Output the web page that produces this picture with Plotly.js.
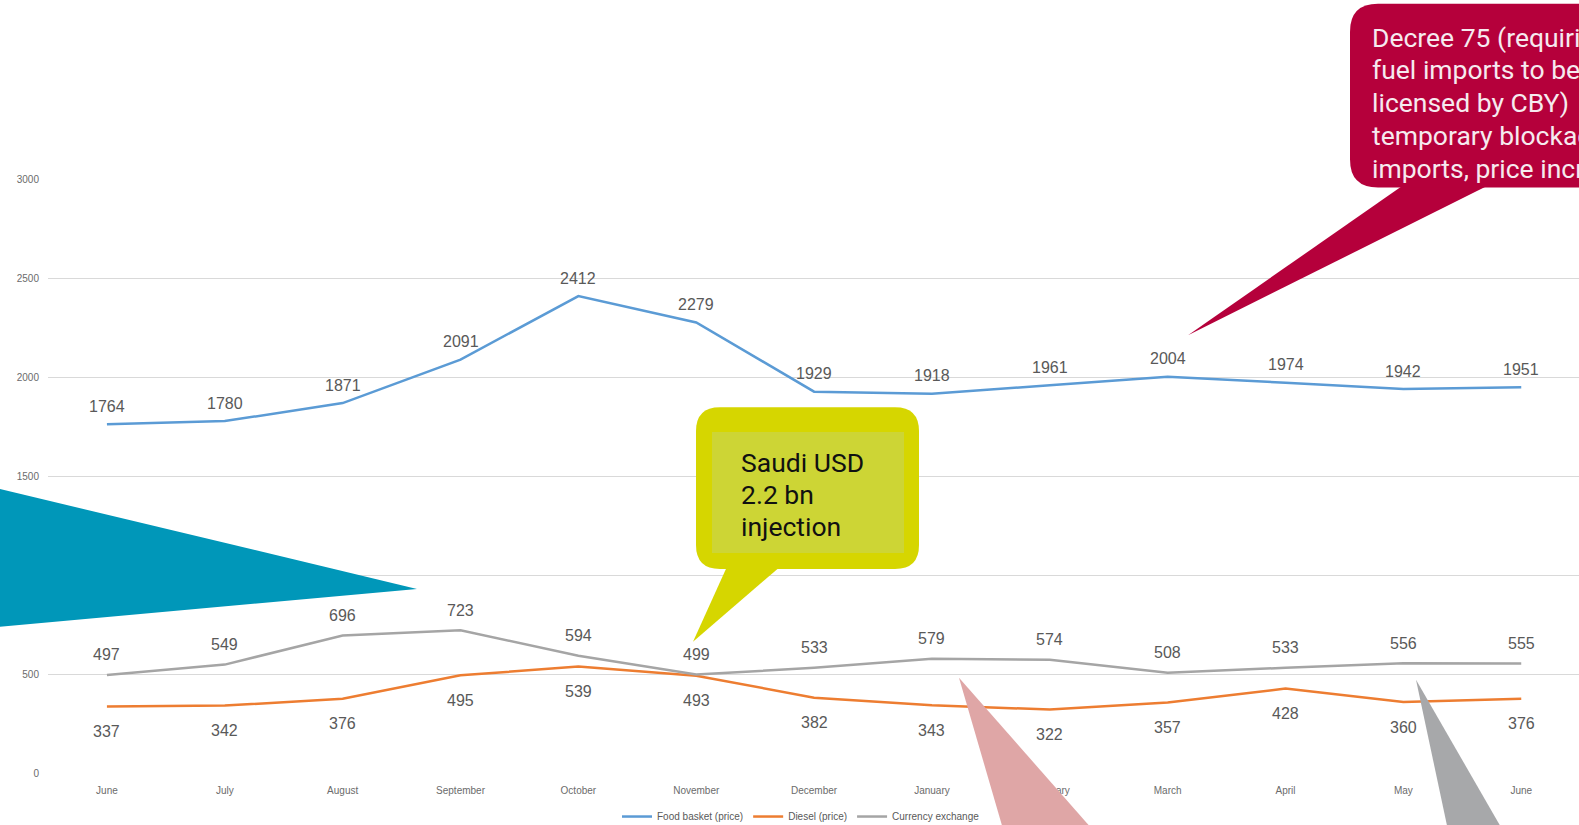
<!DOCTYPE html>
<html>
<head>
<meta charset="utf-8">
<script src="https://cdn.plot.ly/plotly-3.0.1.min.js"></script>
<style>
html,body{margin:0;padding:0;overflow:hidden;background:#fff;}
#chart{width:1579px;height:825px;}
</style>
</head>
<body>
<div id="chart"></div>
<script>
// ---- data ----
const months = ["June","July","August","September","October","November","December","January","February","March","April","May","June"];
const foodBasket = [1764,1780,1871,2091,2412,2279,1929,1918,1961,2004,1974,1942,1951];
const diesel = [337,342,376,495,539,493,382,343,322,357,428,360,376];
const currency = [497,549,696,723,594,499,533,579,574,508,533,556,555];
const yTicks = [0,500,1000,1500,2000,2500,3000];
const seriesNames = ["Food basket (price)","Diesel (price)","Currency exchange"];
const callout1Lines = ["Saudi USD","2.2 bn","injection"];
const callout2Lines = ["Decree 75 (requiring","fuel imports to be","licensed by CBY)","temporary blockade of","imports, price increase"];

// ---- geometry ----
const W = 1579, H = 825;
const M = {l:48, r:0, t:178.5, b:50.6, autoexpand:false};
const PW = W - M.l - M.r, PH = H - M.t - M.b;
const X = px => (px - M.l) / PW;
const Y = py => (H - M.b - py) / PH;
const xIdx = months.map((_, i) => i);

function rrect(x0,y0,x1,y1,r){
  return "M"+X(x0+r)+","+Y(y0)+
    " L"+X(x1-r)+","+Y(y0)+" Q"+X(x1)+","+Y(y0)+" "+X(x1)+","+Y(y0+r)+
    " L"+X(x1)+","+Y(y1-r)+" Q"+X(x1)+","+Y(y1)+" "+X(x1-r)+","+Y(y1)+
    " L"+X(x0+r)+","+Y(y1)+" Q"+X(x0)+","+Y(y1)+" "+X(x0)+","+Y(y1-r)+
    " L"+X(x0)+","+Y(y0+r)+" Q"+X(x0)+","+Y(y0)+" "+X(x0+r)+","+Y(y0)+" Z";
}
function poly(pts){
  return pts.map((p,i)=>(i?"L":"M")+X(p[0])+","+Y(p[1])).join(" ")+" Z";
}
function shp(path, color){
  return {type:"path", xref:"paper", yref:"paper", path:path, fillcolor:color,
          line:{width:0}, layer:"above"};
}

const colors = ["#5B9BD5","#ED7D31","#A5A5A5"];
const traces = [foodBasket, diesel, currency].map((vals, k) => ({
  type:"scatter", mode:"lines", x:xIdx, y:vals, name:seriesNames[k],
  line:{color:colors[k], width:2.5}, hoverinfo:"skip"
}));

const labelFont = {family:"Liberation Sans, Arial, sans-serif", size:16, color:"#595959"};
const annotations = [];
[[foodBasket,18],[diesel,-25],[currency,20]].forEach(([vals,shift]) => {
  vals.forEach((v,i) => annotations.push({
    x:i, y:v, xref:"x", yref:"y", text:String(v), showarrow:false,
    xanchor:"center", yanchor:"middle", yshift:shift, font:labelFont
  }));
});
callout1Lines.forEach((t,i) => annotations.push({
  xref:"paper", yref:"paper", x:X(738.5), y:Y(462.4 + i*32.2), xanchor:"left", yanchor:"middle",
  align:"left", showarrow:false, text:t,
  font:{family:"Roboto, sans-serif", size:26.5, color:"#111111"}
}));
callout2Lines.forEach((t,i) => annotations.push({
  xref:"paper", yref:"paper", x:X(1370), y:Y(36.3 + i*32.8), xanchor:"left", yanchor:"middle",
  align:"left", showarrow:false, text:t,
  font:{family:"Roboto, sans-serif", size:26.5, color:"#F6EAEF"}
}));

const shapes = [
  // teal wedge at left
  shp(poly([[0,489],[417,589],[0,627]]), "#0097B9"),
  // yellow callout
  shp(poly([[730,560],[788,560],[693,642]]), "#D6D600"),
  shp(rrect(696,407,919,569,24), "#D6D600"),
  shp(poly([[712,432],[904,432],[904,553],[712,553]]), "#CDD535"),
  // crimson callout
  shp(poly([[1410,180],[1498,180],[1188,335]]), "#B5003B"),
  shp(rrect(1350,3,1720,187,28), "#B5003B"),
  // pink and gray wedges at bottom
  shp(poly([[959,678],[1089,826],[1002,826]]), "#DFA6A6"),
  shp(poly([[1416,680],[1500,826],[1447,826]]), "#A7A8AA")
];

const tickFont = {family:"Liberation Sans, Arial, sans-serif", size:10, color:"#6b6b6b"};
const layout = {
  width:W, height:H, autosize:false,
  margin:M,
  paper_bgcolor:"#ffffff", plot_bgcolor:"#ffffff",
  showlegend:true,
  legend:{orientation:"h", x:X(801), xanchor:"center", y:Y(817), yanchor:"middle",
          font:{family:"Liberation Sans, Arial, sans-serif", size:10, color:"#595959"},
          bgcolor:"rgba(0,0,0,0)"},
  xaxis:{range:[-0.5,12.49], tickvals:xIdx, ticktext:months, showgrid:false,
         zeroline:false, showline:false, ticks:"", tickfont:tickFont,
         ticklabelstandoff:9, fixedrange:true, automargin:false},
  yaxis:{range:[-4,3004], tickvals:yTicks, ticktext:yTicks.map(String),
         showgrid:true, gridcolor:"#D9D9D9", gridwidth:1, zeroline:false,
         showline:false, ticks:"", tickfont:tickFont, ticklabelstandoff:8,
         fixedrange:true, automargin:false},
  annotations:annotations,
  shapes:shapes
};

Plotly.newPlot("chart", traces, layout, {displayModeBar:false, staticPlot:true});
</script>
</body>
</html>
